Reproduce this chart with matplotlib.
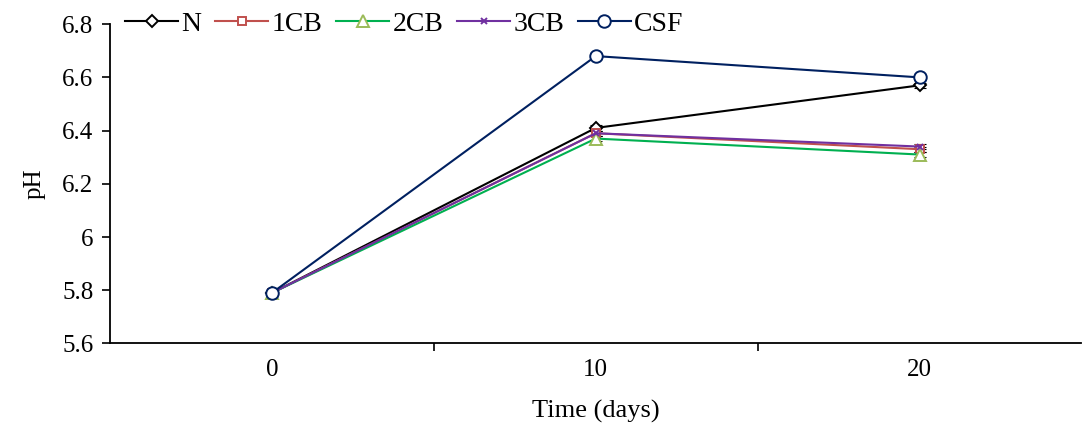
import matplotlib
matplotlib.use("Agg")
import matplotlib.pyplot as plt
from matplotlib.ticker import FixedLocator, FuncFormatter

days = ["0", "10", "20"]
ph_n = [5.79, 6.41, 6.57]
ph_1cb = [5.79, 6.39, 6.33]
ph_2cb = [5.79, 6.37, 6.31]
ph_3cb = [5.79, 6.39, 6.34]
ph_csf = [5.79, 6.68, 6.60]
err = [0.005, 0.01, 0.01]

plt.rcParams['font.family'] = ['Liberation Serif', 'DejaVu Serif']
plt.rcParams['font.size'] = 18

fig = plt.figure(figsize=(10.83, 4.24), dpi=100)
ax = fig.add_axes([0.1016, 0.19, 0.897, 0.753])

x = list(range(len(days)))
series = [
    ("N", ph_n, "black", "D", "black", 6.5),
    ("1CB", ph_1cb, "#C0504D", "s", "#C0504D", 6),
    ("2CB", ph_2cb, "#00B050", "^", "#9BBB59", 9),
    ("3CB", ph_3cb, "#7030A0", "x", "#7030A0", 4),
    ("CSF", ph_csf, "#002060", "o", "#002060", 9),
]
for name, vals, col, mk, mcol, ms in series:
    ax.errorbar(x, vals, yerr=err, fmt="none", ecolor="black", elinewidth=0.8,
                capsize=4, capthick=0.8, zorder=2)
    ax.plot(x, vals, color=col, marker=mk, markersize=ms, markerfacecolor="white",
            markeredgecolor=mcol, markeredgewidth=1.4, linewidth=1.5, label=name, zorder=3)

ax.set_xlim(-0.5, 2.5)
ax.set_ylim(5.6, 6.8)
ax.set_xticks(x)
ax.set_xticklabels(days)
ax.xaxis.set_minor_locator(FixedLocator([0.5, 1.5]))
ax.tick_params(axis="x", which="major", length=0, pad=11)
ax.tick_params(axis="x", which="minor", length=6, width=1.2, direction="out")
ax.set_yticks([5.6, 5.8, 6.0, 6.2, 6.4, 6.6, 6.8])
ax.yaxis.set_major_formatter(FuncFormatter(lambda v, p: f"{v:g}"))
ax.tick_params(axis="y", length=6, width=1.2, direction="out", pad=6)
for s in ["top", "right"]:
    ax.spines[s].set_visible(False)
for s in ["left", "bottom"]:
    ax.spines[s].set_linewidth(1.3)

ax.set_ylabel("pH", labelpad=12)
ax.set_xlabel("Time (days)", labelpad=14, fontsize=19)

leg = ax.legend(loc="upper left", bbox_to_anchor=(0.1055, 1.0), bbox_transform=fig.transFigure,
                ncol=5, frameon=False, handlelength=1.9, handletextpad=0.12,
                columnspacing=0.5, borderaxespad=0, fontsize=20)

fig.savefig("out.png", dpi=100)
